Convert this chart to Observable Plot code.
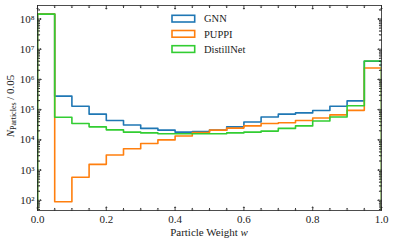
<!DOCTYPE html>
<html><head><meta charset="utf-8">
<script src="https://cdn.jsdelivr.net/npm/d3@7"></script>
<script src="https://cdn.jsdelivr.net/npm/@observablehq/plot@0.6"></script>
<style>
body{margin:0;background:#fff}
svg{font-family:"Liberation Serif",serif}
</style>
</head><body><div id="chart"></div>
<script>
// bin left edges (width 0.05)
const binEdges = [0,0.05,0.1,0.15,0.2,0.25,0.3,0.35,0.4,0.45,0.5,0.55,0.6,0.65,0.7,0.75,0.8,0.85,0.9,0.95];
const seriesNames = ["GNN","PUPPI","DistillNet"];
const seriesColors = ["#1f77b4","#ff7f0e","#32cd32"];
const gnn = [1.45e8,2.8e5,1.3e5,7.1e4,4.4e4,3.1e4,2.4e4,2.1e4,1.8e4,1.9e4,2.1e4,2.7e4,3.9e4,5.7e4,7.1e4,7.8e4,9.4e4,1.3e5,1.95e5,4.0e6];
const puppi = [1.45e8,90,580,1550,3160,5100,7600,1.0e4,1.35e4,1.74e4,2.1e4,2.45e4,2.9e4,3.5e4,3.7e4,4.4e4,5.3e4,6.7e4,9.5e4,2.4e6];
const distill = [1.45e8,5.6e4,3.5e4,2.7e4,2.15e4,1.8e4,1.7e4,1.6e4,1.6e4,1.6e4,1.6e4,1.7e4,1.8e4,1.95e4,2.4e4,2.9e4,4.2e4,5.7e4,1.35e5,4.1e6];
const xTickLabels = [0,0.2,0.4,0.6,0.8,1.0];
const yTickLabels = [1e2,1e3,1e4,1e5,1e6,1e7,1e8];
const supers = {"0":"⁰","1":"¹","2":"²","3":"³","4":"⁴","5":"⁵","6":"⁶","7":"⁷","8":"⁸","9":"⁹"};

const yDomain = [46, 2.8e8];
const baseVal = 1;
function stepPoints(name, vals){
  const pts = [{x:0, y:baseVal, s:name}];
  vals.forEach((v,i)=>pts.push({x:binEdges[i], y:v, s:name}));
  pts.push({x:1, y:vals[vals.length-1], s:name});
  pts.push({x:1, y:baseVal, s:name});
  return pts;
}
const lineData = [
  ...stepPoints("GNN", gnn),
  ...stepPoints("PUPPI", puppi),
  ...stepPoints("DistillNet", distill)
];

const xMinor = d3.range(0, 21).map(i=>i*0.05).filter((d,i)=>i%4!==0);
const yMinor = [];
for (let e=1;e<=8;e++) for (let m=2;m<=9;m++){ const v=m*Math.pow(10,e); if(v>yDomain[0]&&v<yDomain[1]) yMinor.push(v); }

const tickStyle = {stroke:"#222", strokeWidth:0.8, anchor:"start"};
const plot = Plot.plot({
  width:394, height:242,
  marginLeft:37, marginRight:13, marginTop:5, marginBottom:32,
  style:{fontFamily:"Liberation Serif, serif", fontSize:"11px", background:"white", color:"#222"},
  color:{domain:seriesNames, range:seriesColors},
  x:{domain:[0,1], ticks:xTickLabels, tickFormat:d3.format(".1f"), tickSize:0, tickPadding:5, label:null},
  y:{type:"log", domain:yDomain, ticks:yTickLabels, tickSize:0, tickPadding:3, label:null,
     tickFormat:d=>"10"+String(Math.round(Math.log10(d))).split("").map(c=>supers[c]).join("")},
  marks:[
    Plot.line(lineData, {x:"x", y:"y", z:"s", stroke:"s", curve:"step-after", strokeWidth:1.6, clip:true}),
    Plot.frame({stroke:"#222", strokeWidth:0.8}),
    Plot.vector(xTickLabels, {x:d=>d, frameAnchor:"bottom", length:3.5, rotate:0, ...tickStyle}),
    Plot.vector(xMinor, {x:d=>d, frameAnchor:"bottom", length:2, rotate:0, ...tickStyle}),
    Plot.vector(xTickLabels, {x:d=>d, frameAnchor:"top", length:3.5, rotate:180, ...tickStyle}),
    Plot.vector(xMinor, {x:d=>d, frameAnchor:"top", length:2, rotate:180, ...tickStyle}),
    Plot.vector(yTickLabels, {y:d=>d, frameAnchor:"left", length:3.5, rotate:90, ...tickStyle}),
    Plot.vector(yMinor, {y:d=>d, frameAnchor:"left", length:2, rotate:90, ...tickStyle}),
    Plot.vector(yTickLabels, {y:d=>d, frameAnchor:"right", length:3.5, rotate:270, ...tickStyle}),
    Plot.vector(yMinor, {y:d=>d, frameAnchor:"right", length:2, rotate:270, ...tickStyle})
  ]
});
document.getElementById("chart").appendChild(plot);

const svg = d3.select(plot);
// legend
const leg = svg.append("g").attr("text-anchor","start");
seriesNames.forEach((n,i)=>{
  const y0 = 15.3 + i*15.2;
  leg.append("rect").attr("x",172).attr("y",y0).attr("width",22.7).attr("height",6.7)
     .attr("fill","white").attr("stroke",seriesColors[i]).attr("stroke-width",1.6);
  leg.append("text").attr("x",204).attr("y",y0+3.35).attr("dy","0.35em")
     .attr("text-anchor","start").attr("font-size","10.5px").attr("fill","#222").text(n);
});
// x label
const xl = svg.append("text").attr("x",209).attr("y",236).attr("text-anchor","middle")
  .attr("font-size","11px").attr("fill","#222");
xl.append("tspan").text("Particle Weight ");
xl.append("tspan").attr("font-style","italic").text("w");
// y label
const yl = svg.append("text").attr("transform","translate(14,106) rotate(-90)")
  .attr("text-anchor","middle").attr("font-size","11px").attr("fill","#222");
yl.append("tspan").attr("font-style","italic").text("N");
yl.append("tspan").attr("font-size","8px").attr("dy","2").text("Particles");
yl.append("tspan").attr("dy","-2").text(" / 0.05");
</script>
</body></html>
